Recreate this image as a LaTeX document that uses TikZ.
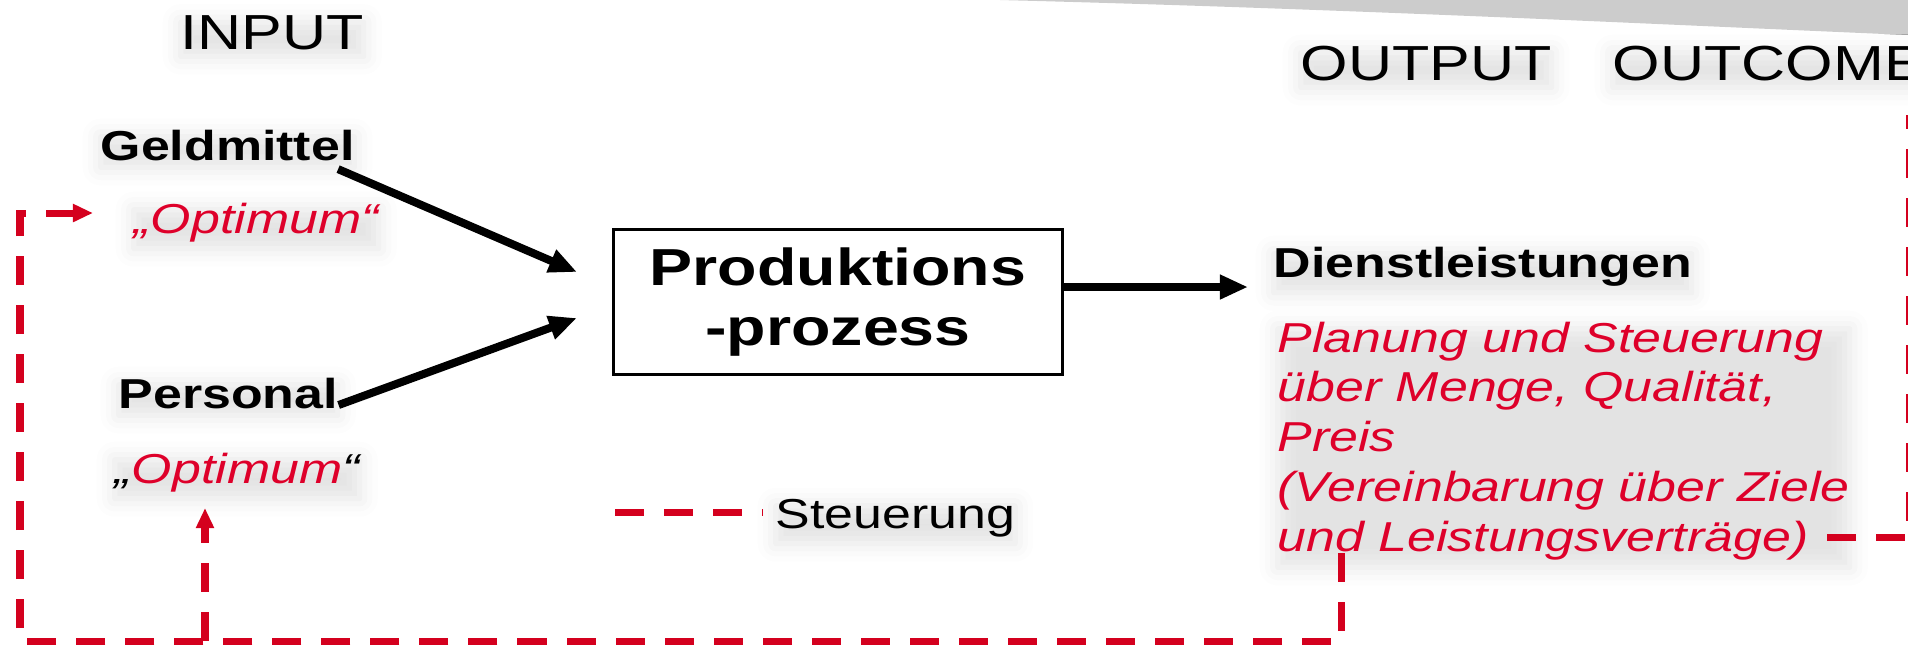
\documentclass[tikz,border=0pt]{standalone}
\usepackage{fontspec}
\setmainfont{Liberation Sans}[FakeStretch=1.24]
\usetikzlibrary{arrows.meta,shadows.blur}

\definecolor{ctrlred}{RGB}{222,0,42}
\definecolor{linered}{RGB}{212,0,30}
\definecolor{bandgray}{RGB}{204,204,204}

\newcommand\hdfont{\fontsize{14pt}{17pt}\selectfont}
\newcommand\lbfont{\fontsize{11.9pt}{14.2pt}\selectfont}
\newcommand\bxfont{\fontsize{14.8pt}{17.1pt}\selectfont\bfseries}

\tikzset{
  halo/.style={blur shadow={shadow xshift=0pt, shadow yshift=-0.07cm,
      shadow blur radius=0.18cm, shadow opacity=11}},
  lbl/.style={inner sep=0pt, anchor=base west, halo},
  flow/.style={line width=0.08cm, -{Triangle[length=0.28cm,width=0.23cm]}},
  ctrl/.style={linered, line width=0.07cm, dash pattern=on 0.29cm off 0.2cm},
  ctrltip/.style={ctrl, -{Triangle[length=0.2cm,width=0.17cm]}},
}

\begin{document}
\begin{tikzpicture}[x=0.01cm, y=-0.01cm]
\useasboundingbox (0,0) rectangle (1908,644);
% grey band along the top edge
\fill[bandgray] (1000,0) -- (1908,0) -- (1908,35)
  .. controls (1650,24) and (1350,9) .. (1000,0);

% column headings
\node[lbl, font=\hdfont] (input)   at (180,49) {INPUT};
\node[lbl, font=\hdfont] (output)  at (1300,80) {OUTPUT};
\node[lbl, font=\hdfont] (outcome) at (1612,80) {OUTCOME};

% inputs
\node[lbl, font=\lbfont\bfseries] (geld) at (100,160) {Geldmittel};
\node[lbl, font=\lbfont\itshape, text=ctrlred] (opt1) at (133,233) {„Optimum“};
\node[lbl, font=\lbfont\bfseries] (pers) at (118,408) {Personal};
\node[lbl, font=\lbfont\itshape] (opt2) at (114,483) {„\textcolor{ctrlred}{Optimum}“};

% process
\node[draw, line width=0.03cm, minimum width=4.49cm, minimum height=1.44cm,
  align=center, font=\bxfont] (prod) at (838,302) {Produktions\\-prozess};

% output side
\node[lbl, font=\lbfont\bfseries] (dienst) at (1273,277) {Dienstleistungen};
\node[lbl, anchor=north west, align=left, font=\lbfont\itshape, text=ctrlred]
  (ziele) at (1277,321) {Planung und Steuerung\\über Menge, Qualität,\\Preis\\%
  (Vereinbarung über Ziele\\und Leistungsverträge)};

% legend
\coordinate (lgstart) at (615,512);
\node[lbl, font=\lbfont] (lgtext) at (775,528) {Steuerung};
\draw[ctrl] (lgstart) -- ++(148,0);

% resource flow
\coordinate (geldtip) at (577,272);
\coordinate (perstip) at (577,318);
\coordinate (prodtip) at (1248,287);
\draw[flow] ([xshift=-0.17cm, yshift=-0.08cm]geld.south east) -- (geldtip);
\draw[flow] ([yshift=0.03cm]pers.base east) -- (perstip);
\draw[flow] (prod.east |- prodtip) -- (prodtip);

% control loop
\coordinate (fb) at (1341,553);
\coordinate (corner) at (20,641);
\coordinate (opt1in) at (93,213);
\coordinate (opt2in) at (205,508);
\coordinate (zend) at (1827,537);
\coordinate (outtop) at (1909,115);
\draw[ctrltip] (fb) |- (corner) |- (opt1in);
\draw[ctrltip] (opt2in |- corner) -- (opt2in);
\draw[ctrl] (zend) -| (outtop);
\end{tikzpicture}
\end{document}
